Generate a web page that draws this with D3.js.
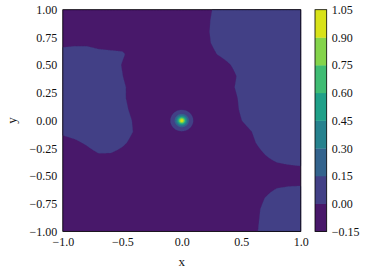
<!DOCTYPE html>
<html>
<head>
<meta charset="utf-8">
<script src="https://cdn.jsdelivr.net/npm/d3@7"></script>
<style>
  body { margin: 0; background: #fff; }
  text { font-family: "Liberation Serif", serif; }
</style>
</head>
<body>
<div id="chart"></div>
<script>
// filled contour levels (also the colorbar ticks)
const levels = [-0.15, 0.00, 0.15, 0.30, 0.45, 0.60, 0.75, 0.90, 1.05];
const xTicks = [-1.0, -0.5, 0.0, 0.5, 1.0];
const yTicks = [-1.0, -0.75, -0.5, -0.25, 0.0, 0.25, 0.5, 0.75, 1.0];

// background field on a 0.1 grid
const gridX = [-1.0, -0.9, -0.8, -0.7, -0.6, -0.5, -0.4, -0.3, -0.2, -0.1, 0.0,
               0.1, 0.2, 0.3, 0.4, 0.5, 0.6, 0.7, 0.8, 0.9, 1.0];
const gridY = [1.0, 0.9, 0.8, 0.7, 0.6, 0.5, 0.4, 0.3, 0.2, 0.1, 0.0,
               -0.1, -0.2, -0.3, -0.4, -0.5, -0.6, -0.7, -0.8, -0.9, -1.0];
const bgRows = [
  [-.1, -.1, -.1, -.1, -.1, -.1, -.1, -.1, -.1, -.1, -.1, -.1, -.05, .04, .1, .1, .1, .1, .1, .1, .1],
  [-.1, -.1, -.1, -.1, -.1, -.1, -.1, -.1, -.1, -.1, -.1, -.1, -.04, .06, .1, .1, .1, .1, .1, .1, .1],
  [-.1, -.1, -.1, -.1, -.1, -.1, -.1, -.1, -.1, -.1, -.1, -.1, -.03, .06, .1, .1, .1, .1, .1, .1, .1],
  [-.04, -.03, -.03, -.05, -.06, -.07, -.1, -.1, -.1, -.1, -.1, -.1, -.04, .05, .1, .1, .1, .1, .1, .1, .1],
  [.06, .07, .07, .04, .03, .02, -.07, -.1, -.1, -.1, -.1, -.1, -.08, .005, .06, .1, .1, .1, .1, .1, .1],
  [.1, .1, .1, .1, .09, -.01, -.1, -.1, -.1, -.1, -.1, -.1, -.1, -.08, -.01, .07, .1, .1, .1, .1, .1],
  [.1, .1, .1, .1, .1, .005, -.1, -.1, -.1, -.1, -.1, -.1, -.1, -.1, -.06, .04, .1, .1, .1, .1, .1],
  [.1, .1, .1, .1, .1, .03, -.07, -.1, -.1, -.1, -.1, -.1, -.1, -.1, -.04, .05, .1, .1, .1, .1, .1],
  [.1, .1, .1, .1, .1, .03, -.07, -.1, -.1, -.1, -.1, -.1, -.1, -.1, -.07, .03, .1, .1, .1, .1, .1],
  [.1, .1, .1, .1, .1, .05, -.05, -.1, -.1, -.02, -.02, -.02, -.1, -.1, -.08, .02, .1, .1, .1, .1, .1],
  [.1, .1, .1, .1, .1, .08, -.02, -.1, -.1, -.02, -.02, -.02, -.1, -.1, -.1, -.005, .09, .1, .1, .1, .1],
  [.03, .06, .1, .1, .1, .08, -.01, -.1, -.1, -.02, -.02, -.02, -.1, -.1, -.1, -.08, .01, .1, .1, .1, .1],
  [-.06, -.03, .02, .09, .1, .03, -.05, -.1, -.1, -.1, -.1, -.1, -.1, -.1, -.1, -.1, -.02, .07, .1, .1, .1],
  [-.1, -.1, -.06, -.005, -.007, -.05, -.1, -.1, -.1, -.1, -.1, -.1, -.1, -.1, -.1, -.1, -.07, .005, .07, .1, .1],
  [-.1, -.1, -.1, -.09, -.09, -.1, -.1, -.1, -.1, -.1, -.1, -.1, -.1, -.1, -.1, -.1, -.1, -.06, -.02, -.002, .01],
  [-.1, -.1, -.1, -.1, -.1, -.1, -.1, -.1, -.1, -.1, -.1, -.1, -.1, -.1, -.1, -.1, -.1, -.1, -.1, -.09, -.09],
  [-.1, -.1, -.1, -.1, -.1, -.1, -.1, -.1, -.1, -.1, -.1, -.1, -.1, -.1, -.1, -.1, -.1, -.06, -.01, .005, .01],
  [-.1, -.1, -.1, -.1, -.1, -.1, -.1, -.1, -.1, -.1, -.1, -.1, -.1, -.1, -.1, -.1, -.09, .003, .08, .1, .1],
  [-.1, -.1, -.1, -.1, -.1, -.1, -.1, -.1, -.1, -.1, -.1, -.1, -.1, -.1, -.1, -.1, -.06, .04, .1, .1, .1],
  [-.1, -.1, -.1, -.1, -.1, -.1, -.1, -.1, -.1, -.1, -.1, -.1, -.1, -.1, -.1, -.1, -.05, .05, .1, .1, .1],
  [-.1, -.1, -.1, -.1, -.1, -.1, -.1, -.1, -.1, -.1, -.1, -.1, -.1, -.1, -.1, -.1, -.04, .06, .1, .1, .1]
];

// narrow peak at the origin: radial profile
const peakR = [0, 0.01, 0.02, 0.03, 0.04, 0.05, 0.06, 0.07, 0.08, 0.09, 0.10, 0.12];
const peakV = [1.04, 0.96, 0.79, 0.56, 0.39, 0.26, 0.165, 0.10, 0.055, 0.03, 0.012, 0];

const W = 371, H = 273;
const plot = { left: 62.8, right: 300.8, top: 9.7, bottom: 231.4 };
const cbar = { left: 315, right: 326.7 };

const svg = d3.select('#chart').append('svg')
  .attr('width', W)
  .attr('height', H);

const x = d3.scaleLinear().domain([-1, 1]).range([plot.left, plot.right]);
const y = d3.scaleLinear().domain([-1, 1]).range([plot.bottom, plot.top]);

// lookup of the background grid (bilinear) plus the peak profile
const colOf = d3.scaleLinear().domain([gridX[0], gridX[gridX.length - 1]]).range([0, gridX.length - 1]);
const rowOf = d3.scaleLinear().domain([gridY[0], gridY[gridY.length - 1]]).range([0, gridY.length - 1]);
const peak = d3.scaleLinear().domain(peakR).range(peakV).clamp(true);

function field (px, py) {
  const c = colOf(px), r = rowOf(py);
  const c0 = Math.min(Math.floor(c), gridX.length - 2), r0 = Math.min(Math.floor(r), gridY.length - 2);
  const fc = c - c0, fr = r - r0;
  const top = bgRows[r0][c0] * (1 - fc) + bgRows[r0][c0 + 1] * fc;
  const bot = bgRows[r0 + 1][c0] * (1 - fc) + bgRows[r0 + 1][c0 + 1] * fc;
  return top * (1 - fr) + bot * fr + peak(Math.hypot(px, py));
}

// sample on a fine grid for d3.contours (samples at cell centres)
const n = 400;
const gx = d3.scaleLinear().domain([0, n]).range([-1, 1]);
const gy = d3.scaleLinear().domain([0, n]).range([1, -1]);
const values = new Float64Array(n * n);
for (let j = 0; j < n; j++) {
  for (let i = 0; i < n; i++) {
    values[j * n + i] = field(gx(i + 0.5), gy(j + 0.5));
  }
}

const bands = d3.contours()
  .size([n, n])
  .thresholds(levels.slice(0, -1))(values);

const color = (i) => d3.interpolateViridis((i + 0.5) / (levels.length - 1));

const proj = d3.geoTransform({
  point (px, py) { this.stream.point(x(gx(px)), y(gy(py))); }
});
const path = d3.geoPath(proj);

svg.append('g')
  .selectAll('path')
  .data(bands)
  .join('path')
    .attr('d', path)
    .attr('fill', (d, i) => color(i))
    .attr('stroke', (d, i) => color(i))
    .attr('stroke-width', 0.3);

// axes
const fmt1 = d3.format('.1f');
const fmt2 = d3.format('.2f');

const xAxis = svg.append('g')
  .attr('transform', `translate(0, ${plot.bottom})`)
  .call(d3.axisBottom(x).tickValues(xTicks).tickFormat(fmt1).tickSize(0).tickPadding(6.5));

const yAxis = svg.append('g')
  .attr('transform', `translate(${plot.left}, 0)`)
  .call(d3.axisLeft(y).tickValues(yTicks).tickFormat(fmt2).tickSize(0).tickPadding(5.5));

[xAxis, yAxis].forEach((g) => {
  g.select('.domain').remove();
  g.selectAll('text').attr('font-size', 12).attr('font-family', '"Liberation Serif", serif').attr('fill', '#111');
});

svg.append('rect')
  .attr('x', plot.left)
  .attr('y', plot.top)
  .attr('width', plot.right - plot.left)
  .attr('height', plot.bottom - plot.top)
  .attr('fill', 'none')
  .attr('stroke', '#000')
  .attr('stroke-width', 0.8);

svg.append('text')
  .attr('x', x(0))
  .attr('y', 266)
  .attr('text-anchor', 'middle')
  .attr('font-size', 13)
  .attr('fill', '#111')
  .text('x');

svg.append('text')
  .attr('transform', `translate(16, ${y(0)}) rotate(-90)`)
  .attr('text-anchor', 'middle')
  .attr('font-size', 13)
  .attr('fill', '#111')
  .text('y');

// colorbar
const cy = d3.scaleLinear().domain([levels[0], levels[levels.length - 1]]).range([plot.bottom, plot.top]);

svg.append('g')
  .selectAll('rect')
  .data(levels.slice(0, -1))
  .join('rect')
    .attr('x', cbar.left)
    .attr('width', cbar.right - cbar.left)
    .attr('y', (d, i) => cy(levels[i + 1]))
    .attr('height', (d, i) => cy(d) - cy(levels[i + 1]) + 0.3)
    .attr('fill', (d, i) => color(i));

svg.append('rect')
  .attr('x', cbar.left)
  .attr('y', plot.top)
  .attr('width', cbar.right - cbar.left)
  .attr('height', plot.bottom - plot.top)
  .attr('fill', 'none')
  .attr('stroke', '#000')
  .attr('stroke-width', 0.8);

const cAxis = svg.append('g')
  .attr('transform', `translate(${cbar.right}, 0)`)
  .call(d3.axisRight(cy).tickValues(levels).tickFormat(fmt2).tickSize(0).tickPadding(5));
cAxis.select('.domain').remove();
cAxis.selectAll('text').attr('font-size', 12).attr('font-family', '"Liberation Serif", serif').attr('fill', '#111');
</script>
</body>
</html>
